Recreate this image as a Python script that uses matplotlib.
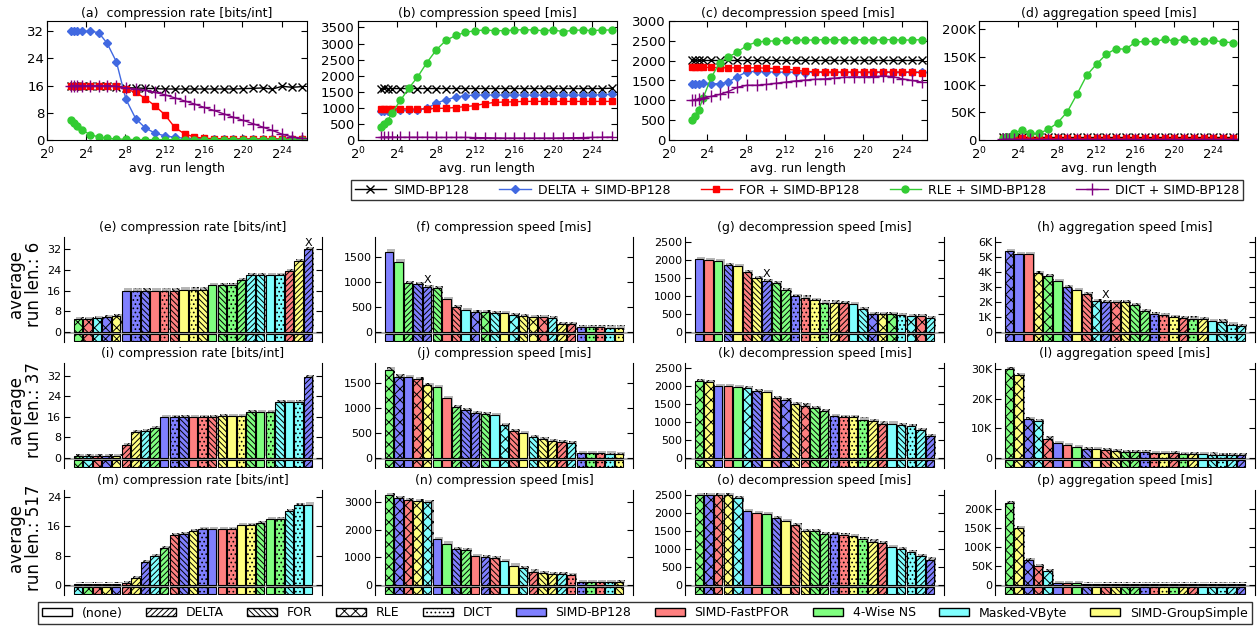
import numpy as np
import matplotlib
matplotlib.use('Agg')
import matplotlib.pyplot as plt
import matplotlib.patheffects as pe
import matplotlib.ticker as mticker
from matplotlib.patches import Patch
from matplotlib.lines import Line2D

plt.rcParams['font.family'] = ['DejaVu Sans']
plt.rcParams['hatch.linewidth'] = 0.7

# ---------------- top row: sweep over avg. run length ----------------
run_len_log2 = [2.45, 2.76, 3.10, 3.55, 4.40, 5.28, 6.14, 7.10, 8.07, 9.07, 10.07, 11.07, 12.07, 13.07,
                14.07, 15.07, 16.07, 17.07, 18.07, 19.07, 20.07, 21.07, 22.07, 23.07, 24.07, 25.07, 26.07]

series_names = ['SIMD-BP128', 'DELTA + SIMD-BP128', 'FOR + SIMD-BP128', 'RLE + SIMD-BP128', 'DICT + SIMD-BP128']

rate_bp128 = [16.0, 16.0, 16.0, 16.0, 16.0, 16.0, 15.9, 15.7, 15.4, 15.3, 15.2, 15.1, 15.0, 15.0,
              15.0, 15.0, 15.0, 15.0, 15.0, 15.0, 15.1, 15.2, 15.3, 15.0, 15.8, 15.5, 15.7]
rate_delta = [32.0, 32.0, 32.0, 32.0, 32.0, 31.6, 28.5, 23.0, 12.0, 6.3, 3.5, 2.0, 1.2, 0.8,
              0.5, 0.4, 0.4, 0.3, 0.3, 0.3, 0.3, 0.3, 0.3, 0.3, 0.3, 0.3, 0.3]
rate_for = [16.0, 16.0, 16.0, 16.0, 16.0, 16.0, 16.0, 15.8, 15.0, 14.0, 12.2, 10.0, 7.4, 3.7,
            1.8, 0.9, 0.5, 0.4, 0.4, 0.3, 0.3, 0.3, 0.3, 0.3, 0.3, 0.3, 0.3]
rate_rle = [5.8, 5.0, 4.0, 3.0, 1.6, 0.9, 0.5, 0.3, 0.2, 0.1, 0.1, 0.1, 0.1, 0.1,
            0.1, 0.1, 0.1, 0.1, 0.1, 0.1, 0.1, 0.1, 0.1, 0.1, 0.1, 0.1, 0.1]
rate_dict = [16.0, 16.0, 16.0, 16.0, 16.0, 16.0, 16.0, 15.8, 15.3, 15.0, 14.6, 14.0, 13.3, 12.4,
             11.5, 10.6, 9.6, 8.7, 7.7, 6.7, 5.8, 4.8, 3.8, 2.8, 1.7, 0.9, 0.5]

comp_bp128 = [1600, 1610, 1600, 1600, 1600, 1600, 1600, 1600, 1600, 1600, 1600, 1600, 1600, 1600,
              1600, 1600, 1600, 1600, 1600, 1600, 1600, 1600, 1600, 1600, 1600, 1600, 1610]
comp_delta = [900, 900, 910, 920, 920, 930, 940, 980, 1150, 1250, 1330, 1380, 1400, 1400,
              1400, 1400, 1400, 1400, 1400, 1400, 1400, 1400, 1400, 1400, 1400, 1410, 1420]
comp_for = [960, 960, 970, 970, 970, 970, 960, 970, 980, 990, 1010, 1040, 1070, 1130,
            1170, 1180, 1190, 1200, 1200, 1200, 1200, 1200, 1200, 1200, 1200, 1200, 1200]
comp_rle = [400, 500, 600, 850, 1230, 1620, 1950, 2400, 2800, 3100, 3250, 3350, 3400, 3420,
            3400, 3400, 3420, 3430, 3420, 3400, 3420, 3370, 3410, 3420, 3400, 3420, 3420]
comp_dict = [90, 90, 90, 90, 85, 85, 85, 85, 80, 80, 80, 80, 75, 70,
             65, 60, 60, 60, 60, 60, 60, 65, 70, 75, 80, 85, 90]

dec_bp128 = [2020, 2020, 2020, 2020, 2020, 2020, 2020, 2020, 2020, 2020, 2020, 2020, 2020, 2020,
             2020, 2020, 2020, 2020, 2020, 2020, 2020, 2020, 2020, 2020, 2020, 2020, 2020]
dec_delta = [1420, 1410, 1420, 1430, 1420, 1420, 1460, 1600, 1720, 1730, 1720, 1710, 1710, 1710,
             1700, 1710, 1710, 1710, 1710, 1710, 1710, 1710, 1720, 1710, 1710, 1710, 1710]
dec_for = [1840, 1840, 1830, 1830, 1830, 1820, 1820, 1820, 1820, 1820, 1810, 1800, 1790, 1760,
           1730, 1720, 1710, 1710, 1710, 1710, 1710, 1710, 1710, 1710, 1710, 1710, 1700]
dec_rle = [500, 600, 750, 1050, 1580, 1950, 2090, 2220, 2380, 2470, 2490, 2500, 2510, 2520,
           2520, 2520, 2530, 2530, 2520, 2520, 2530, 2520, 2530, 2530, 2520, 2520, 2530]
dec_dict = [1000, 1010, 1030, 1060, 1100, 1150, 1220, 1330, 1380, 1380, 1400, 1430, 1460, 1490,
            1510, 1530, 1540, 1560, 1580, 1590, 1590, 1600, 1610, 1600, 1540, 1500, 1460]

agg_bp128 = [5500, 5500, 5500, 5500, 5500, 5500, 5500, 5500, 5500, 5500, 5500, 5500, 5500, 5500,
             5500, 5500, 5500, 5500, 5500, 5500, 5500, 5500, 5500, 5500, 5500, 5500, 5500]
agg_delta = [2000, 2000, 2000, 2000, 2000, 2000, 2000, 2000, 2000, 2000, 2000, 2000, 2000, 2000,
             2000, 2000, 2000, 2000, 2000, 2000, 2000, 2000, 2000, 2000, 2000, 2000, 2000]
agg_for = [3500, 3500, 3500, 3500, 3500, 3500, 3500, 3500, 3500, 3500, 3500, 3500, 3500, 3500,
           3500, 3500, 3500, 3500, 3500, 3500, 3500, 3500, 3500, 3500, 3500, 3500, 3500]
agg_rle = [4000, 5000, 6000, 12000, 18000, 12000, 12000, 19000, 31000, 51000, 83000, 117000, 137000, 155000,
           165000, 164000, 177000, 178000, 178000, 182000, 179000, 182000, 178000, 178000, 180000, 177000, 176000]
agg_dict = [1500, 1500, 1500, 1500, 1500, 1500, 1500, 1500, 1500, 1500, 1500, 1500, 1500, 1500,
            1500, 1500, 1500, 1500, 1500, 1500, 1500, 1500, 1500, 1500, 1500, 1500, 1500]

# ---------------- bar panels: physical (colour) x logical (hatch) ----------------
# physical: B=SIMD-BP128 R=SIMD-FastPFOR G=4-Wise NS C=Masked-VByte Y=SIMD-GroupSimple
# logical: N=(none) D=DELTA F=FOR R=RLE I=DICT
e_phys = ['G', 'R', 'C', 'B', 'Y', 'B', 'B', 'B', 'R', 'R', 'R', 'Y', 'Y', 'Y', 'G', 'G', 'G', 'G', 'C', 'C', 'C', 'C', 'R', 'Y', 'B']
e_logi = ['R', 'R', 'R', 'R', 'R', 'N', 'I', 'F', 'N', 'I', 'F', 'N', 'I', 'F', 'N', 'F', 'I', 'D', 'D', 'F', 'N', 'I', 'D', 'D', 'D']
e_vals = [5.0, 5.1, 5.3, 5.7, 6.0, 16, 16, 16, 16, 16, 16, 16.4, 16.4, 16.4, 18, 18, 18, 20, 22, 22, 22, 22, 23.5, 27.5, 32]

f_phys = ['B', 'G', 'G', 'B', 'B', 'G', 'R', 'R', 'C', 'B', 'G', 'C', 'Y', 'C', 'Y', 'Y', 'R', 'C', 'Y', 'R', 'B', 'G', 'R', 'C', 'Y']
f_logi = ['N', 'N', 'D', 'F', 'D', 'F', 'N', 'F', 'N', 'R', 'R', 'F', 'N', 'R', 'F', 'R', 'R', 'D', 'D', 'D', 'I', 'I', 'I', 'I', 'I']
f_vals = [1600, 1400, 980, 960, 900, 880, 650, 500, 440, 400, 400, 370, 370, 340, 310, 300, 290, 280, 160, 155, 100, 100, 95, 85, 85]

g_phys = ['B', 'R', 'G', 'B', 'Y', 'R', 'Y', 'B', 'G', 'G', 'B', 'R', 'Y', 'G', 'Y', 'R', 'C', 'C', 'B', 'Y', 'G', 'C', 'C', 'R', 'C']
g_logi = ['N', 'N', 'N', 'F', 'N', 'F', 'F', 'D', 'F', 'D', 'I', 'I', 'I', 'I', 'D', 'D', 'N', 'F', 'R', 'R', 'R', 'I', 'R', 'R', 'D']
g_vals = [2010, 2000, 1960, 1840, 1820, 1650, 1480, 1420, 1350, 1170, 1000, 950, 890, 810, 810, 800, 770, 630, 500, 480, 480, 470, 440, 430, 370]

h_phys = ['B', 'B', 'R', 'Y', 'G', 'G', 'B', 'Y', 'R', 'C', 'B', 'R', 'Y', 'G', 'G', 'B', 'R', 'Y', 'R', 'G', 'Y', 'C', 'C', 'C', 'C']
h_logi = ['R', 'N', 'N', 'R', 'R', 'N', 'F', 'N', 'F', 'R', 'D', 'R', 'F', 'F', 'D', 'I', 'I', 'I', 'D', 'I', 'D', 'N', 'F', 'I', 'D']
h_vals = [5350, 5200, 5200, 3900, 3700, 3350, 2950, 2800, 2500, 2050, 2000, 2000, 1950, 1750, 1400, 1150, 1100, 1000, 900, 880, 850, 720, 680, 480, 370]

i_phys = ['G', 'C', 'R', 'B', 'Y', 'R', 'Y', 'C', 'G', 'B', 'B', 'B', 'R', 'R', 'R', 'Y', 'Y', 'Y', 'G', 'G', 'G', 'C', 'C', 'C', 'B']
i_logi = ['R', 'R', 'R', 'R', 'R', 'D', 'D', 'D', 'D', 'N', 'I', 'F', 'N', 'I', 'F', 'F', 'N', 'I', 'F', 'N', 'I', 'F', 'N', 'I', 'D']
i_vals = [0.8, 0.8, 0.8, 0.8, 0.8, 4.8, 10, 10.3, 11.5, 16, 16, 16, 16, 16, 16, 16.3, 16.3, 16.3, 17.8, 17.8, 17.8, 21.8, 21.8, 21.8, 31.5]

j_phys = ['G', 'B', 'B', 'R', 'Y', 'G', 'R', 'G', 'B', 'B', 'G', 'C', 'C', 'R', 'Y', 'C', 'Y', 'Y', 'R', 'C', 'B', 'G', 'R', 'C', 'Y']
j_logi = ['R', 'R', 'N', 'R', 'R', 'N', 'N', 'D', 'F', 'D', 'F', 'N', 'R', 'F', 'N', 'F', 'F', 'D', 'D', 'D', 'I', 'I', 'I', 'I', 'I']
j_vals = [1760, 1620, 1610, 1570, 1450, 1410, 1200, 1020, 960, 890, 870, 860, 650, 540, 500, 420, 380, 340, 320, 290, 100, 90, 90, 85, 80]

k_phys = ['G', 'Y', 'B', 'R', 'G', 'C', 'B', 'Y', 'R', 'B', 'Y', 'R', 'G', 'G', 'B', 'R', 'Y', 'G', 'Y', 'R', 'C', 'C', 'C', 'C', 'B']
k_logi = ['R', 'R', 'N', 'N', 'N', 'R', 'F', 'N', 'F', 'R', 'F', 'R', 'F', 'D', 'I', 'I', 'I', 'I', 'D', 'D', 'N', 'F', 'I', 'D', 'D']
k_vals = [2120, 2100, 2000, 1980, 1960, 1940, 1850, 1830, 1670, 1600, 1480, 1450, 1380, 1300, 1150, 1130, 1130, 1060, 1020, 950, 950, 920, 870, 760, 600]

l_phys = ['G', 'Y', 'B', 'C', 'R', 'B', 'R', 'G', 'B', 'Y', 'R', 'Y', 'G', 'G', 'B', 'R', 'Y', 'R', 'G', 'Y', 'C', 'C', 'C', 'C', 'B']
l_logi = ['R', 'R', 'R', 'R', 'R', 'N', 'N', 'N', 'F', 'N', 'F', 'F', 'F', 'D', 'I', 'I', 'I', 'D', 'I', 'D', 'N', 'F', 'I', 'D', 'D']
l_vals = [30000, 28000, 13000, 12500, 6500, 5000, 4200, 3700, 3000, 2800, 2500, 2200, 2000, 1900, 1800, 1700, 1600, 1500, 1400, 1300, 1200, 1100, 1000, 900, 800]

m_phys = ['C', 'G', 'R', 'Y', 'B', 'R', 'Y', 'B', 'C', 'G', 'R', 'B', 'Y', 'B', 'B', 'R', 'R', 'Y', 'Y', 'G', 'G', 'G', 'C', 'C', 'C']
m_logi = ['R', 'R', 'R', 'R', 'R', 'D', 'D', 'D', 'D', 'D', 'F', 'F', 'F', 'I', 'N', 'N', 'I', 'N', 'I', 'F', 'N', 'I', 'F', 'I', 'N']
m_vals = [0.1, 0.1, 0.1, 0.1, 0.1, 0.5, 1.8, 6.3, 8.0, 10.0, 13.7, 13.8, 14.8, 15.2, 15.2, 15.2, 15.2, 16.4, 16.4, 17.0, 18.0, 18.0, 20.2, 21.8, 22.0]

n_phys = ['G', 'B', 'R', 'Y', 'C', 'B', 'G', 'B', 'G', 'R', 'B', 'R', 'C', 'Y', 'C', 'R', 'Y', 'Y', 'C', 'R', 'B', 'G', 'R', 'C', 'Y']
n_logi = ['R', 'R', 'R', 'R', 'R', 'N', 'N', 'F', 'D', 'N', 'D', 'F', 'N', 'N', 'F', 'D', 'F', 'D', 'D', 'I', 'I', 'I', 'I', 'I', 'F']
n_vals = [3250, 3150, 3100, 3050, 3000, 1650, 1500, 1300, 1250, 1050, 1020, 980, 870, 700, 600, 480, 430, 390, 380, 350, 110, 100, 100, 90, 90]

o_phys = ['G', 'B', 'R', 'Y', 'C', 'B', 'R', 'G', 'B', 'Y', 'R', 'Y', 'G', 'G', 'B', 'R', 'Y', 'G', 'Y', 'R', 'C', 'C', 'C', 'C', 'B']
o_logi = ['R', 'R', 'R', 'R', 'R', 'N', 'N', 'N', 'F', 'N', 'F', 'F', 'F', 'D', 'I', 'I', 'I', 'I', 'D', 'D', 'N', 'F', 'I', 'D', 'D']
o_vals = [2480, 2480, 2480, 2480, 2400, 2050, 2000, 1960, 1850, 1780, 1650, 1500, 1480, 1420, 1400, 1380, 1350, 1260, 1200, 1150, 1050, 1000, 900, 800, 700]

p_phys = ['G', 'Y', 'B', 'R', 'C', 'B', 'R', 'G', 'B', 'Y', 'R', 'Y', 'G', 'G', 'B', 'R', 'Y', 'G', 'Y', 'R', 'C', 'C', 'C', 'C', 'B']
p_logi = ['R', 'R', 'R', 'R', 'R', 'N', 'N', 'N', 'F', 'N', 'F', 'F', 'F', 'D', 'I', 'I', 'I', 'I', 'D', 'D', 'N', 'F', 'I', 'D', 'D']
p_vals = [215000, 150000, 65000, 50000, 35000, 5000, 4000, 3500, 3000, 2800, 2600, 2400, 2300, 2200, 2100, 2000, 1900, 1800, 1700, 1600, 1500, 1500, 1400, 1400, 1300]

phys_color = {'B': '#8080ff', 'R': '#ff8080', 'G': '#80ff80', 'C': '#80ffff', 'Y': '#ffff80'}
logi_hatch = {'N': '', 'D': '//////', 'F': '\\\\\\\\\\\\', 'R': 'xxx', 'I': '....'}
phys_names = ['SIMD-BP128', 'SIMD-FastPFOR', '4-Wise NS', 'Masked-VByte', 'SIMD-GroupSimple']
logi_names = ['(none)', 'DELTA', 'FOR', 'RLE', 'DICT']

fig = plt.figure(figsize=(12.6, 6.28), dpi=100)
W, H = 1260.0, 628.0


def px_axes(x0, y0, x1, y1):
    return fig.add_axes([x0 / W, 1 - y1 / H, (x1 - x0) / W, (y1 - y0) / H])


line_styles = [dict(color='black', marker='x', ms=6, mew=1.0),
               dict(color='#4169e1', marker='D', ms=4),
               dict(color='#ff0000', marker='s', ms=5),
               dict(color='#33cc33', marker='o', ms=5),
               dict(color='#800080', marker='+', ms=8, mew=1.0)]

top_panels = [
    ('(a)  compression rate [bits/int]', [rate_bp128, rate_delta, rate_for, rate_rle, rate_dict], 35, [0, 8, 16, 24, 32], None),
    ('(b) compression speed [mis]', [comp_bp128, comp_delta, comp_for, comp_rle, comp_dict], 3700, list(range(0, 3501, 500)), None),
    ('(c) decompression speed [mis]', [dec_bp128, dec_delta, dec_for, dec_rle, dec_dict], 3000, list(range(0, 3001, 500)), None),
    ('(d) aggregation speed [mis]', [agg_bp128, agg_delta, agg_for, agg_rle, agg_dict], 215000, list(range(0, 200001, 50000)), 'K'),
]
top_x = [(47, 307), (357.5, 617), (668.5, 927), (979, 1238)]
xs = [2 ** e for e in run_len_log2]
for (title, ser, ytop, yt, fmt), (x0, x1) in zip(top_panels, top_x):
    ax = px_axes(x0, 21, x1, 140)
    for s, st in zip(ser, line_styles):
        ax.plot(xs, s, lw=1.0, **st)
    ax.set_xscale('log', base=2)
    ax.set_xlim(1, 2 ** 26.6)
    ax.set_xticks([2 ** k for k in range(0, 25, 4)])
    ax.set_xticklabels(['$2^{%d}$' % k for k in range(0, 25, 4)])
    ax.xaxis.set_minor_locator(mticker.NullLocator())
    ax.set_ylim(0, ytop)
    ax.set_yticks(yt)
    if fmt == 'K':
        ax.set_yticklabels(['0' if v == 0 else '%dK' % (v // 1000) for v in yt])
    ax.tick_params(direction='in', top=True, right=True, labelsize=9.5, length=4, pad=2)
    ax.tick_params(axis='x', pad=4)
    ax.set_title(title, fontsize=9, pad=3)
    ax.set_xlabel('avg. run length', fontsize=9, labelpad=0)

handles = [Line2D([], [], lw=1.0, **st) for st in line_styles]
fig.legend(handles, series_names, ncol=5, loc='center', bbox_to_anchor=(797 / W, 1 - 190 / H),
           fontsize=9, frameon=True, fancybox=False, edgecolor='black', columnspacing=2.4,
           handlelength=2.5, borderpad=0.3, handletextpad=0.6)

shadow = [pe.SimplePatchShadow(offset=(1.5, 1.5), shadow_rgbFace='#999999', alpha=0.7), pe.Normal()]


def draw_bars(ax, phys, logi, vals, ytop, yt, title, kilo=False, mark=None):
    n = len(vals)
    pos = np.arange(n)
    cols = [phys_color[p] for p in phys]
    bars = ax.bar(pos, vals, width=0.88, color=cols, edgecolor='black', linewidth=0.8)
    strip = ax.bar(pos, [-ytop * 0.08] * n, bottom=-ytop * 0.022, width=0.88, color=cols,
                   edgecolor='black', linewidth=0.8)
    for b, sb, l in zip(bars, strip, logi):
        b.set_hatch(logi_hatch[l])
        sb.set_hatch(logi_hatch[l])
        b.set_path_effects(shadow)
    ax.axhline(-ytop * 0.011, color='#aaaaaa', lw=1.5, zorder=0.5)
    if mark is not None:
        ax.text(mark, vals[mark] + ytop * 0.015, 'X', ha='center', va='bottom', fontsize=8)
    ax.set_xlim(-1.45, n + 0.45)
    ax.set_ylim(-ytop * 0.108, ytop)
    ax.set_yticks(yt)
    if kilo:
        ax.set_yticklabels(['0' if v == 0 else '%dK' % (v // 1000) for v in yt])
    ax.spines['top'].set_visible(False)
    ax.spines['bottom'].set_visible(False)
    ax.set_xticks([])
    ax.tick_params(axis='y', direction='in', right=True, labelsize=8, length=4, pad=2)
    ax.set_title(title, fontsize=9, pad=4)


col_x = [(64, 322), (375, 633), (685, 944), (995, 1255)]
row_y = [(237, 342), (363, 468), (490, 595)]
bar_panels = [
    [(e_phys, e_logi, e_vals, 36.8, [0, 8, 16, 24, 32], '(e) compression rate [bits/int]', False, 24),
     (f_phys, f_logi, f_vals, 1890, [0, 500, 1000, 1500], '(f) compression speed [mis]', False, 4),
     (g_phys, g_logi, g_vals, 2630, [0, 500, 1000, 1500, 2000, 2500], '(g) decompression speed [mis]', False, 7),
     (h_phys, h_logi, h_vals, 6310, [0, 1000, 2000, 3000, 4000, 5000, 6000], '(h) aggregation speed [mis]', True, 10)],
    [(i_phys, i_logi, i_vals, 37, [0, 8, 16, 24, 32], '(i) compression rate [bits/int]', False, None),
     (j_phys, j_logi, j_vals, 1890, [0, 500, 1000, 1500], '(j) compression speed [mis]', False, None),
     (k_phys, k_logi, k_vals, 2630, [0, 500, 1000, 1500, 2000, 2500], '(k) decompression speed [mis]', False, None),
     (l_phys, l_logi, l_vals, 32000, [0, 10000, 20000, 30000], '(l) aggregation speed [mis]', True, None)],
    [(m_phys, m_logi, m_vals, 26, [0, 8, 16, 24], '(m) compression rate [bits/int]', False, None),
     (n_phys, n_logi, n_vals, 3450, [0, 1000, 2000, 3000], '(n) compression speed [mis]', False, None),
     (o_phys, o_logi, o_vals, 2630, [0, 500, 1000, 1500, 2000, 2500], '(o) decompression speed [mis]', False, None),
     (p_phys, p_logi, p_vals, 250000, [0, 50000, 100000, 150000, 200000], '(p) aggregation speed [mis]', True, None)],
]
row_labels = ['average\nrun len.: 6', 'average\nrun len.: 37', 'average\nrun len.: 517']
for r, (y0, y1) in enumerate(row_y):
    for c, (x0, x1) in enumerate(col_x):
        ax = px_axes(x0, y0, x1, y1)
        draw_bars(ax, *bar_panels[r][c])
    fig.text(25 / W, 1 - ((y0 + y1) / 2 - 5) / H, row_labels[r], rotation=90, ha='center', va='center',
             fontsize=12, linespacing=1.0)

leg_handles = [Patch(facecolor='white', edgecolor='black', hatch=logi_hatch[k]) for k in ['N', 'D', 'F', 'R', 'I']]
leg_handles += [Patch(facecolor=phys_color[k], edgecolor='black') for k in ['B', 'R', 'G', 'C', 'Y']]
fig.legend(leg_handles, logi_names + phys_names, ncol=10, loc='center', bbox_to_anchor=(645 / W, 1 - 613 / H),
           fontsize=9, frameon=True, fancybox=False, edgecolor='black', columnspacing=1.85,
           handlelength=2.4, handleheight=0.6, borderpad=0.35, handletextpad=0.8)

fig.savefig('out.png', dpi=100)
